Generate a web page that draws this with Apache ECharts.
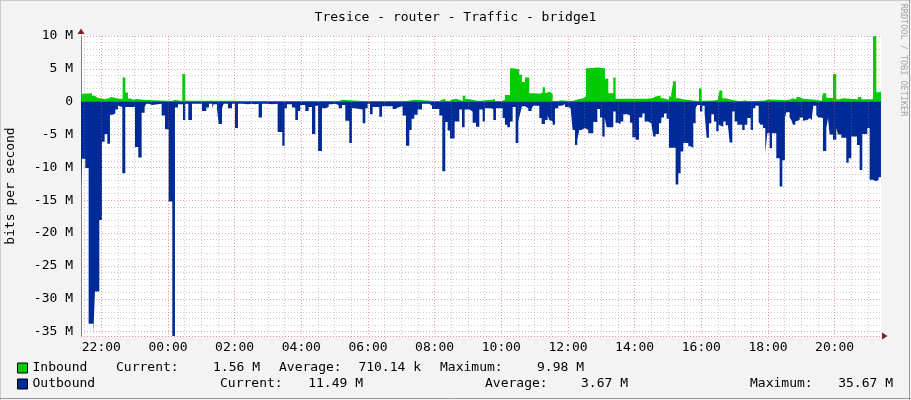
<!DOCTYPE html>
<html><head><meta charset="utf-8">
<script src="https://cdn.jsdelivr.net/npm/echarts@6/dist/echarts.min.js"></script>
<style>html,body{margin:0;padding:0;background:#F3F3F3}#c{width:911px;height:400px}</style>
</head><body><div id="c"></div>
<script>
// time is expressed in hours since 00:00 of the first day (24 = next midnight)
const titleText = 'Tresice - router - Traffic - bridge1';
const timeStart = 21.391, timeEnd = 45.391;
const labelHours = [22, 24, 26, 28, 30, 32, 34, 36, 38, 40, 42, 44];
const yTop = 10, yBottom = -35.67;

// [hour, Mbit/s] step samples
const inbound = [[21.39,1.2],[21.50,1.3],[21.72,0.9],[21.80,0.6],[21.88,0.4],[22.10,0.5],[22.20,0.7],[22.30,0.5],[22.50,0.4],[22.64,3.7],
[22.72,1.4],[22.80,0.5],[22.88,0.3],[22.95,0.4],[23.05,0.3],[23.25,0.1],[24.13,0.3],[24.20,0.1],[24.43,4.2],[24.52,0.15],
[25.38,0.08],[29.12,0.3],[29.22,0.08],[29.94,0.0],[30.06,0.08],[31.12,0.28],[31.39,0.08],[32.14,0.3],[32.22,0.43],[32.32,0.1],
[32.45,0.35],[32.52,0.43],[32.64,0.28],[32.74,0.1],[32.84,0.9],[32.92,0.4],[33.01,0.28],[33.14,0.08],[33.36,0.18],[33.44,0.28],
[33.74,0.43],[33.81,0.1],[34.01,0.28],[34.11,1.0],[34.26,5.1],[34.36,4.9],[34.54,4.1],[34.62,3.0],[34.71,3.7],[34.84,1.3],
[35.01,1.2],[35.16,1.4],[35.24,2.2],[35.31,1.3],[35.36,1.5],[35.46,1.2],[35.54,0.08],[35.64,0.23],[35.81,0.08],[36.11,0.38],
[36.31,0.53],[36.46,0.8],[36.54,5.1],[36.61,5.2],[36.91,5.1],[37.11,3.5],[37.21,1.3],[37.36,3.7],[37.43,0.43],[38.33,0.53],
[38.53,0.8],[38.63,0.95],[38.78,0.53],[38.86,0.28],[39.03,0.8],[39.10,1.3],[39.16,3.1],[39.24,0.53],[39.33,0.33],[39.49,0.18],
[39.78,0.03],[39.93,2.0],[40.01,0.13],[40.08,0.18],[40.38,0.28],[40.49,0.53],[40.55,1.7],[40.63,0.53],[40.73,0.23],[40.98,0.08],
[41.18,0.23],[41.33,0.08],[41.40,0.18],[41.90,0.33],[42.00,0.28],[42.30,0.23],[42.51,0.33],[42.65,0.53],[42.75,0.38],[42.85,0.7],
[42.95,0.43],[43.05,0.33],[43.35,0.23],[43.51,0.13],[43.62,0.53],[43.65,1.3],[43.75,0.6],[43.85,0.53],[43.95,4.2],[44.05,0.38],
[44.15,0.53],[44.25,0.38],[44.70,0.7],[44.80,0.38],[45.15,9.98],[45.25,1.44],[45.32,1.56],[45.39,1.56]];

const outbound = [[21.39,-13.2],[21.42,-8.7],[21.52,-10.1],[21.62,-33.8],[21.76,-35.5],[21.81,-28.9],[21.94,-18.0],[22.02,-6.1],[22.10,-4.9],[22.18,-6.4],
[22.26,-2.0],[22.34,-1.8],[22.42,-1.2],[22.50,-0.6],[22.56,-0.8],[22.63,-10.9],[22.72,-0.8],[23.01,-6.9],[23.11,-8.5],[23.21,-1.7],
[23.30,-0.8],[23.35,-0.3],[23.43,-0.5],[23.52,-0.3],[23.81,-2.1],[23.91,-4.2],[24.02,-15.2],[24.13,-35.67],[24.21,-0.9],[24.30,-0.4],
[24.45,-2.8],[24.52,-0.3],[24.61,-2.8],[24.72,-0.3],[25.02,-1.4],[25.15,-0.9],[25.23,-0.3],[25.33,-1.0],[25.37,-0.4],[25.47,-1.0],
[25.52,-3.4],[25.62,-1.0],[25.67,-0.3],[25.80,-1.0],[25.92,-0.3],[26.01,-4.0],[26.10,-0.3],[26.22,-0.4],[26.40,-0.3],[26.50,-0.4],
[26.62,-0.3],[26.72,-2.4],[26.82,-0.3],[26.97,-0.4],[27.12,-0.3],[27.29,-4.6],[27.43,-6.7],[27.50,-1.0],[27.57,-0.4],[27.72,-0.9],
[27.82,-2.8],[27.90,-1.4],[27.97,-0.5],[28.12,-1.4],[28.22,-0.8],[28.32,-4.9],[28.42,-0.6],[28.50,-7.5],[28.62,-1.0],[28.72,-0.8],
[28.82,-0.4],[28.92,-0.3],[29.02,-0.5],[29.12,-1.0],[29.22,-0.5],[29.32,-2.9],[29.44,-6.3],[29.52,-1.0],[29.62,-1.2],[29.84,-3.3],
[29.92,-1.0],[29.99,-0.3],[30.06,-1.9],[30.14,-0.8],[30.34,-2.3],[30.42,-0.7],[30.74,-1.1],[30.82,-0.9],[30.89,-0.7],[31.04,-2.1],
[31.14,-6.7],[31.24,-4.3],[31.31,-2.6],[31.39,-2.0],[31.49,-1.2],[31.62,-0.3],[31.84,-0.6],[31.92,-1.1],[32.14,-2.1],[32.23,-10.6],
[32.32,-3.1],[32.39,-4.4],[32.46,-5.6],[32.60,-3.0],[32.74,-1.2],[32.82,-3.9],[32.90,-1.2],[33.04,-1.5],[33.14,-3.2],[33.24,-3.8],
[33.34,-1.2],[33.44,-3.0],[33.51,-1.0],[33.68,-1.1],[33.76,-2.8],[33.84,-1.0],[34.04,-2.5],[34.11,-3.5],[34.18,-3.9],[34.26,-3.0],
[34.34,-0.8],[34.43,-6.3],[34.51,-3.0],[34.56,-1.9],[34.62,-0.7],[34.71,-1.0],[34.81,-1.4],[34.91,-1.0],[34.96,-0.6],[35.14,-2.5],
[35.21,-3.4],[35.31,-2.8],[35.39,-2.1],[35.44,-2.8],[35.49,-3.0],[35.54,-3.5],[35.61,-1.0],[35.71,-0.6],[35.81,-0.4],[35.91,-0.8],
[36.01,-1.0],[36.08,-1.1],[36.14,-4.3],[36.21,-6.6],[36.28,-5.8],[36.34,-4.3],[36.41,-4.0],[36.51,-4.3],[36.61,-4.8],[36.76,-3.1],
[36.88,-1.1],[36.96,-2.4],[37.03,-5.3],[37.10,-2.4],[37.16,-3.9],[37.36,-1.5],[37.43,-3.2],[37.50,-3.4],[37.58,-3.0],[37.66,-1.9],
[37.78,-2.1],[37.86,-3.2],[37.93,-5.4],[38.03,-5.8],[38.13,-2.4],[38.23,-1.8],[38.30,-3.0],[38.40,-3.3],[38.50,-3.5],[38.56,-5.3],
[38.63,-4.9],[38.73,-3.3],[38.80,-2.4],[38.88,-1.8],[38.96,-2.6],[39.03,-7.0],[39.23,-12.6],[39.31,-10.9],[39.38,-7.6],[39.46,-6.3],
[39.61,-6.8],[39.68,-7.0],[39.76,-3.3],[39.83,-1.0],[39.88,-0.5],[39.96,-1.5],[40.03,-0.6],[40.10,-1.8],[40.16,-5.5],[40.23,-3.3],
[40.30,-1.9],[40.38,-3.0],[40.45,-4.5],[40.52,-3.5],[40.58,-3.8],[40.66,-3.0],[40.73,-3.6],[40.80,-3.5],[40.85,-6.2],[40.93,-1.5],
[41.00,-3.0],[41.08,-3.5],[41.23,-4.3],[41.30,-3.5],[41.38,-2.5],[41.48,-4.3],[41.55,-1.0],[41.62,-0.6],[41.72,-3.1],[41.78,-3.5],
[41.85,-4.0],[41.92,-7.8],[41.98,-4.8],[42.05,-7.1],[42.12,-4.8],[42.25,-8.6],[42.35,-12.9],[42.43,-8.9],[42.51,-2.5],[42.55,-1.6],
[42.65,-2.4],[42.70,-2.8],[42.75,-3.5],[42.82,-3.0],[42.88,-2.8],[42.95,-2.4],[43.05,-2.9],[43.10,-2.8],[43.18,-2.5],[43.25,-2.8],
[43.32,-2.3],[43.36,-0.6],[43.45,-2.0],[43.51,-2.4],[43.58,-2.5],[43.65,-7.5],[43.75,-4.0],[43.80,-2.5],[43.85,-5.0],[43.95,-5.8],
[44.05,-4.0],[44.10,-5.0],[44.20,-5.5],[44.35,-9.3],[44.42,-8.6],[44.50,-5.3],[44.67,-6.6],[44.75,-10.4],[44.83,-4.9],[44.98,-4.0],
[45.05,-11.9],[45.15,-12.1],[45.25,-11.9],[45.32,-11.49],[45.39,-11.49]];

const legendNames = ['Inbound', 'Outbound'];
const inboundStats = ['1.56 M', '710.14 k', '9.98 M'];
const outboundStats = ['11.49 M', '3.67 M', '35.67 M'];

const MONO = 'DejaVu Sans Mono';
const GREEN = '#00CC00', BLUE = '#002A97';
const MAJOR = 'rgba(222,80,80,0.55)', MINOR = 'rgba(143,143,143,0.45)';

const majorX = labelHours.slice();
const minorX = [];
for (let h = Math.ceil(timeStart * 2) / 2; h <= timeEnd; h += 0.5) {
  if (Math.abs(h / 2 - Math.round(h / 2)) > 1e-6) minorX.push(h);
}
const pad = n => (n < 10 ? '0' : '') + n;

const chart = echarts.init(document.getElementById('c'), null, {renderer: 'canvas'});
const txt = (x, y, s, align) => ({type: 'text', x: x, y: y, style: {text: s, font: '13px "' + MONO + '"', fill: '#000', textAlign: align || 'left', textVerticalAlign: 'middle'}});

chart.setOption({
  animation: false,
  backgroundColor: '#F3F3F3',
  title: {text: titleText, left: 'center', top: 6, textStyle: {fontFamily: MONO, fontSize: 13, fontWeight: 'normal', color: '#000'}},
  grid: {left: 81, right: 30, top: 36, bottom: 64, show: true, backgroundColor: '#fff', borderWidth: 0,
    containLabel: false, outerBoundsMode: 'none'},
  legend: {
    data: legendNames, orient: 'vertical', left: 17, top: 361.5, padding: 0, itemWidth: 10, itemHeight: 10, itemGap: 3,
    icon: 'rect', itemStyle: {borderColor: '#000', borderWidth: 1},
    textStyle: {fontFamily: MONO, fontSize: 13, color: '#000'}, selectedMode: false
  },
  xAxis: {
    type: 'value', min: timeStart, max: timeEnd,
    axisLine: {show: true, lineStyle: {color: '#808080', width: 1}},
    axisTick: {show: false},
    splitLine: {show: false},
    axisLabel: {customValues: labelHours, margin: 5, fontFamily: MONO, fontSize: 13, color: '#000',
      formatter: v => pad(Math.round(v) % 24) + ':00'}
  },
  yAxis: {
    type: 'value', inverse: true, min: -yTop, max: -yBottom, interval: 5,
    name: 'bits per second', nameLocation: 'middle', nameGap: 64, nameRotate: 90,
    nameTextStyle: {fontFamily: MONO, fontSize: 13, color: '#000'},
    axisLine: {show: true, lineStyle: {color: '#808080', width: 1}},
    axisTick: {show: false},
    axisLabel: {margin: 8, fontFamily: MONO, fontSize: 13, color: '#000', showMaxLabel: false,
      formatter: v => (v === 0 ? '0' : (-v) + ' M')},
    splitLine: {show: true, lineStyle: {color: MAJOR, type: [1, 2], width: 1}},
    minorTick: {show: false, splitNumber: 5},
    minorSplitLine: {show: true, lineStyle: {color: MINOR, type: [1, 2], width: 1}}
  },
  series: [
    {
      type: 'line', name: 'grid', data: [], z: 1, silent: true,
      markLine: {
        silent: true, symbol: 'none', label: {show: false}, animation: false,
        data: minorX.map(h => ({xAxis: h, lineStyle: {color: MINOR, type: [1, 2], width: 1}}))
          .concat(majorX.map(h => ({xAxis: h, lineStyle: {color: MAJOR, type: [1, 2], width: 1}})))
      }
    },
    {
      type: 'line', name: 'Inbound', step: 'end', symbol: 'none', z: 3,
      color: GREEN, lineStyle: {width: 0, color: GREEN}, areaStyle: {color: GREEN, opacity: 1},
      data: inbound.map(p => [p[0], -p[1]])
    },
    {
      type: 'line', name: 'Outbound', step: 'end', symbol: 'none', z: 3,
      color: BLUE, lineStyle: {width: 0, color: BLUE}, areaStyle: {color: BLUE, opacity: 1},
      data: outbound.map(p => [p[0], -p[1]])
    }
  ],
  graphic: [
    {type: 'polygon', shape: {points: [[77.5, 34], [84.5, 34], [81, 28.5]]}, style: {fill: '#7F1F1F'}, z: 10},
    {type: 'polygon', shape: {points: [[882, 332.5], [882, 339.5], [887.5, 336]]}, style: {fill: '#7F1F1F'}, z: 10},
    {type: 'text', x: 903, y: 60, rotation: -Math.PI / 2,
      style: {text: 'RRDTOOL / TOBI OETIKER', font: '8.5px "' + MONO + '"', fill: '#A8A8A8', textAlign: 'center', textVerticalAlign: 'middle'}},
    txt(116, 368, 'Current:'), txt(260, 368, inboundStats[0], 'right'),
    txt(279, 368, 'Average:'), txt(421, 368, inboundStats[1], 'right'),
    txt(440, 368, 'Maximum:'), txt(584, 368, inboundStats[2], 'right'),
    txt(220, 384, 'Current:'), txt(363, 384, outboundStats[0], 'right'),
    txt(485, 384, 'Average:'), txt(628, 384, outboundStats[1], 'right'),
    txt(750, 384, 'Maximum:'), txt(893, 384, outboundStats[2], 'right'),
    {type: 'line', shape: {x1: 0.5, y1: 0, x2: 0.5, y2: 400}, style: {stroke: '#CBCBCB', lineWidth: 1}},
    {type: 'line', shape: {x1: 0, y1: 0.5, x2: 911, y2: 0.5}, style: {stroke: '#CBCBCB', lineWidth: 1}},
    {type: 'line', shape: {x1: 909.5, y1: 0, x2: 909.5, y2: 400}, style: {stroke: '#999999', lineWidth: 1}},
    {type: 'line', shape: {x1: 0, y1: 398.5, x2: 911, y2: 398.5}, style: {stroke: '#999999', lineWidth: 1}}
  ]
});
</script></body></html>
